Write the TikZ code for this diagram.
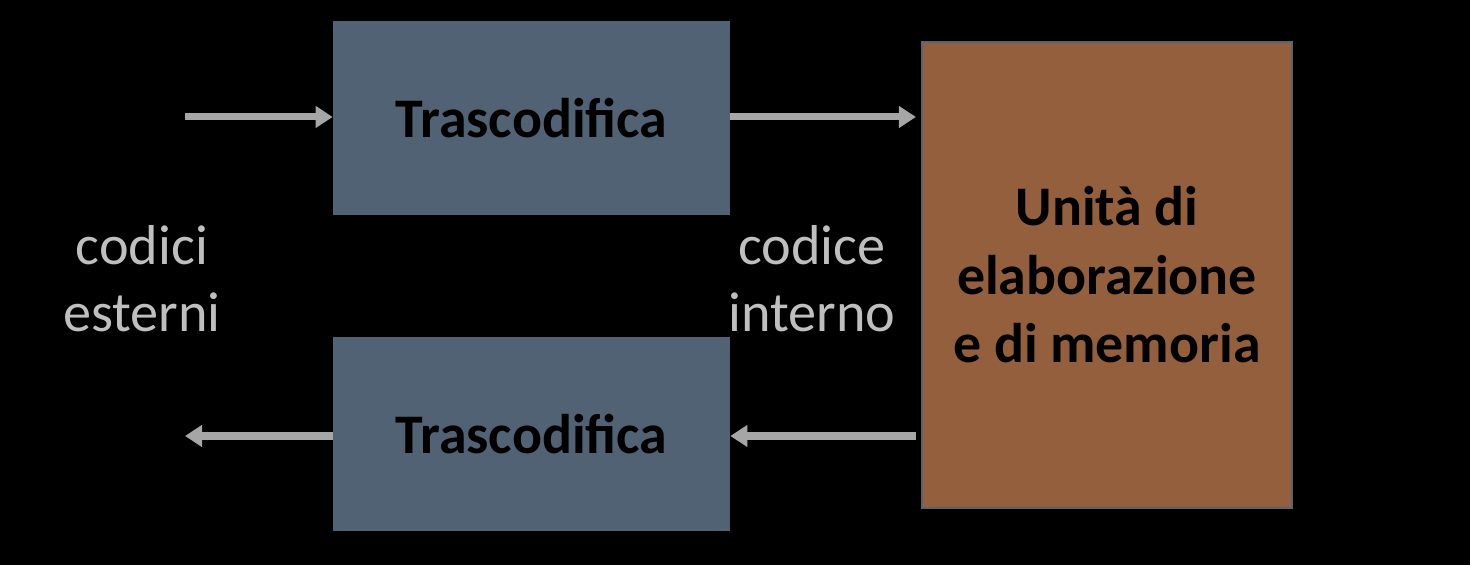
\documentclass[tikz,border=0pt]{standalone}
\usepackage{fontspec}
\setmainfont{Carlito}
\usepackage{tikz}
\usetikzlibrary{arrows.meta}

\definecolor{boxblue}{HTML}{506273}
\definecolor{boxbrown}{HTML}{935F3C}
\definecolor{rimgray}{HTML}{5A6470}
\definecolor{arrowgray}{HTML}{A6A6A6}
\definecolor{labelgray}{HTML}{BFBFBF}

\tikzset{
  transbox/.style={fill=boxblue,minimum width=7.94cm,minimum height=3.88cm,
    font=\fontsize{31.8}{40}\selectfont\bfseries,text=black,inner sep=0pt},
  unitbox/.style={fill=boxbrown,draw=rimgray,line width=1.2pt,minimum width=7.4cm,
    minimum height=9.32cm,align=center,font=\fontsize{31.8}{39}\selectfont\bfseries,text=black},
  codelabel/.style={align=center,text=labelgray,font=\fontsize{32}{38}\selectfont},
  flow/.style={draw=arrowgray,line width=4pt,-{Triangle[length=0.34cm,width=0.42cm]}}
}

\begin{document}
\begin{tikzpicture}
\fill[black] (0,0) rectangle (29.4,11.3);
\useasboundingbox (0,0) rectangle (29.4,11.3);

% Boxes
\node[transbox] (trascIn) at (10.63,8.94) {Trascodifica};
\node[transbox] (trascOut) at (10.63,2.62) {Trascodifica};
\node[unitbox] (unita) at (22.14,5.8) {Unità di\\elaborazione\\e di memoria};

% Labels
\node[codelabel] (esterni) at (2.84,5.72) {codici\\esterni};
\node[codelabel] (interno) at (16.24,5.72) {codice\\interno};

% Free ends
\coordinate (inEnd) at (3.7,8.96);
\coordinate (outEnd) at (3.7,2.58);

% Arrows
\draw[flow] (inEnd) -- (trascIn.west |- inEnd);
\draw[flow,shorten >=0.1cm] (trascIn.east |- inEnd) -- (unita.west |- inEnd);
\draw[flow,shorten <=0.1cm] (unita.west |- outEnd) -- (trascOut.east |- outEnd);
\draw[flow] (trascOut.west |- outEnd) -- (outEnd);

\end{tikzpicture}
\end{document}
